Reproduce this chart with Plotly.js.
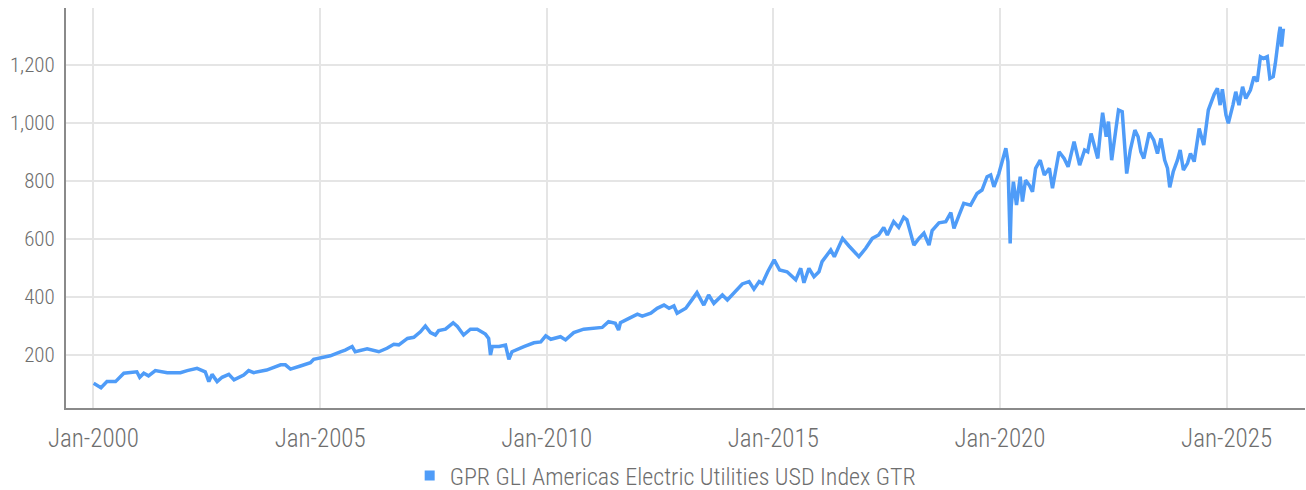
<!DOCTYPE html>
<html>
<head>
<meta charset="utf-8">
<script src="https://cdn.plot.ly/plotly-3.0.1.min.js"></script>
<style>
html,body{margin:0;padding:0;background:#fff;}
#chart{width:1306px;height:490px;}
</style>
</head>
<body>
<div id="chart"></div>
<script>
const seriesName = "GPR GLI Americas Electric Utilities USD Index GTR";

const dates = [
"2000-01-03","2000-03-02","2000-04-19","2000-06-27","2000-09-02","2000-12-16",
"2001-01-08","2001-02-10","2001-03-20","2001-05-14","2001-08-18","2001-12-02",
"2002-01-26","2002-04-15","2002-06-20","2002-07-19","2002-08-14","2002-09-24","2002-11-03","2002-12-27",
"2003-02-07","2003-04-26","2003-06-05","2003-07-15","2003-10-28",
"2004-02-18","2004-03-27","2004-05-07","2004-07-26","2004-10-15","2004-11-10",
"2005-01-04","2005-03-24","2005-06-13","2005-07-22","2005-09-16","2005-10-11",
"2006-01-15","2006-04-19","2006-06-24","2006-08-18","2006-09-27","2006-12-06",
"2007-01-26","2007-03-20","2007-04-29","2007-06-09","2007-07-19","2007-08-14","2007-10-08","2007-12-09",
"2008-01-12","2008-03-02","2008-04-26","2008-06-20","2008-08-25","2008-09-20","2008-10-05","2008-10-19","2008-12-13",
"2009-02-03","2009-03-02","2009-03-27","2009-07-01","2009-09-20","2009-11-14","2009-12-24",
"2010-02-03","2010-04-22","2010-06-02","2010-08-07","2010-10-26",
"2011-01-15","2011-03-24","2011-05-14","2011-07-08","2011-08-03","2011-08-18","2011-10-26",
"2012-01-02","2012-02-10","2012-04-19","2012-06-09","2012-08-03","2012-09-13","2012-10-22","2012-11-17",
"2013-01-26","2013-03-16","2013-04-26","2013-06-20","2013-07-29","2013-09-09","2013-11-17","2013-12-27",
"2014-02-18","2014-04-26","2014-06-20","2014-07-29","2014-09-09","2014-10-05","2014-11-17",
"2015-01-08","2015-02-21","2015-04-22","2015-07-01","2015-08-10","2015-09-05","2015-10-15","2015-11-25",
"2016-01-04","2016-01-29","2016-04-08","2016-05-07","2016-07-12","2016-09-02","2016-10-11","2016-11-21",
"2017-01-15","2017-03-09","2017-04-29","2017-06-09","2017-07-08","2017-08-28","2017-10-08","2017-11-17","2017-12-13",
"2018-01-22","2018-02-07","2018-03-20","2018-04-29","2018-06-09","2018-07-04","2018-08-28","2018-10-22","2018-12-02","2018-12-27",
"2019-02-07","2019-03-16","2019-05-10","2019-07-01","2019-08-10","2019-09-20","2019-10-19","2019-11-14","2019-12-24",
"2020-02-18","2020-03-06","2020-03-24","2020-04-01","2020-04-19","2020-05-14","2020-06-13","2020-07-01","2020-07-26","2020-08-25","2020-09-20","2020-10-15","2020-11-21","2020-12-24",
"2021-02-03","2021-02-28","2021-03-27","2021-04-22","2021-06-02","2021-07-04","2021-08-21","2021-10-05","2021-11-14","2021-12-09",
"2022-01-05","2022-02-28","2022-03-20","2022-04-08","2022-05-07","2022-05-25","2022-06-20","2022-07-26","2022-08-14","2022-09-13","2022-10-01","2022-10-19","2022-11-17","2022-12-24",
"2023-01-19","2023-02-10","2023-03-06","2023-04-19","2023-05-25","2023-06-24","2023-07-22","2023-08-21","2023-09-13","2023-10-01","2023-10-29","2023-12-02","2023-12-24",
"2024-01-19","2024-02-21","2024-03-16","2024-04-15","2024-05-25","2024-07-01","2024-08-07","2024-09-24","2024-10-19","2024-11-10","2024-11-28","2024-12-27",
"2025-01-15","2025-02-21","2025-03-16","2025-04-11","2025-05-10","2025-06-05","2025-07-12","2025-08-10","2025-09-05","2025-10-01","2025-10-26","2025-11-25","2025-12-16",
"2026-01-12","2026-01-29","2026-02-28","2026-03-09","2026-03-20","2026-04-04"
];

const indexValues = [
102,87,108,108,137,142,
123,137,128,146,139,139,
146,154,142,108,133,108,123,133,
114,131,146,139,148,
166,166,151,162,173,185,
189,197,211,217,229,211,
221,211,223,237,235,257,
261,280,300,277,269,284,289,311,
298,269,289,289,272,257,200,229,229,
234,185,211,229,242,245,266,
254,263,252,277,289,
292,295,315,309,286,311,326,
341,334,344,361,372,361,369,344,
361,390,415,372,407,378,407,390,
415,445,453,427,453,447,487,
528,493,487,459,499,449,499,470,
487,522,562,539,602,576,556,539,
568,602,614,640,614,660,640,675,666,
609,579,602,620,579,629,656,660,691,637,
683,723,717,757,769,815,821,780,826,
913,867,585,711,798,717,815,729,803,786,763,844,872,821,
844,775,838,901,878,849,936,855,907,901,
964,878,964,1036,953,1005,872,976,1045,1039,947,826,907,976,
953,901,878,967,941,895,947,872,844,778,832,872,907,
838,861,895,867,981,924,1045,1100,1120,1062,1117,1028,
999,1062,1108,1062,1125,1085,1114,1160,1143,1229,1223,1229,1154,
1160,1206,1309,1332,1264,1326
];

const yTicks = [200,400,600,800,1000,1200];
const xRange = ["1999-05-25","2026-09-25"];
const yRange = [17,1397];

const lineColor = "#4f9cf8";
const textColor = "#6e6e6e";
const fontFamily = "'Roboto Condensed', 'Liberation Sans Narrow', 'DejaVu Sans Condensed', Roboto, sans-serif";

const traces = [
  {
    type: "scatter",
    mode: "lines",
    x: dates,
    y: indexValues,
    name: seriesName,
    showlegend: false,
    line: {color: lineColor, width: 3.5}
  },
  {
    type: "scatter",
    mode: "markers",
    x: [null],
    y: [null],
    name: seriesName,
    showlegend: true,
    marker: {color: lineColor, symbol: "square", size: 10}
  }
];

const layout = {
  width: 1306,
  height: 490,
  margin: {l: 66, r: 1, t: 8, b: 82, pad: 0, autoexpand: false},
  paper_bgcolor: "#ffffff",
  plot_bgcolor: "#ffffff",
  font: {family: fontFamily, size: 24, color: textColor, weight: 300},
  showlegend: true,
  legend: {
    orientation: "h",
    x: 0.484, xanchor: "center",
    y: -0.17, yanchor: "middle",
    font: {family: fontFamily, size: 24, color: textColor, weight: 300},
    itemwidth: 30
  },
  xaxis: {
    type: "date",
    range: xRange,
    tick0: "2000-01-01",
    dtick: "M60",
    tickformat: "%b-%Y",
    showgrid: true,
    gridcolor: "#e5e5e5",
    gridwidth: 2,
    showline: true,
    linecolor: "#8a8a8a",
    linewidth: 2,
    zeroline: false,
    ticks: "",
    ticklabelstandoff: 7,
    tickfont: {family: fontFamily, size: 25, color: textColor, weight: 300}
  },
  yaxis: {
    range: yRange,
    tickvals: yTicks,
    tickformat: ",",
    showgrid: true,
    gridcolor: "#e5e5e5",
    gridwidth: 2,
    showline: true,
    linecolor: "#8a8a8a",
    linewidth: 2,
    zeroline: false,
    ticks: "",
    ticklabelstandoff: 5,
    tickfont: {family: fontFamily, size: 21, color: textColor, weight: 300}
  }
};

Plotly.newPlot("chart", traces, layout, {displayModeBar: false, staticPlot: true});
</script>
</body>
</html>
